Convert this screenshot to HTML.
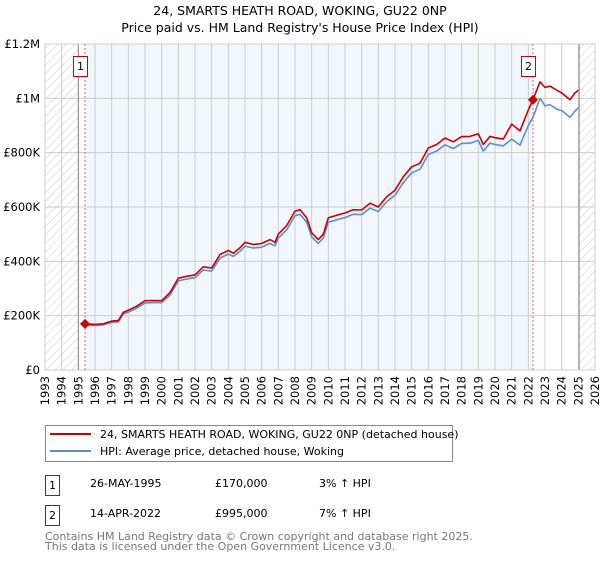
<!DOCTYPE html>
<html><head><meta charset="utf-8">
<style>
body{margin:0;background:#fff;font-family:"DejaVu Sans","Liberation Sans",sans-serif;}
svg text{font-family:"DejaVu Sans","Liberation Sans",sans-serif;}
</style></head>
<body>
<svg id="chart" width="600" height="560" xmlns="http://www.w3.org/2000/svg">
<defs>
<pattern id="hatch" patternUnits="userSpaceOnUse" width="6" height="6" patternTransform="rotate(45)">
<line x1="0" y1="0" x2="0" y2="6" stroke="#ccc" stroke-width="1"/>
</pattern>
</defs>
<text x="300" y="15" text-anchor="middle" font-size="12.5">24, SMARTS HEATH ROAD, WOKING, GU22 0NP</text>
<text x="300" y="32" text-anchor="middle" font-size="12.5">Price paid vs. HM Land Registry's House Price Index (HPI)</text>
<g id="plot"></g>
<g>
<rect x="45.5" y="425.5" width="407" height="36" fill="#fff" stroke="#888"/>
<line x1="50" y1="434" x2="91" y2="434" stroke="#cc0000" stroke-width="2"/>
<text x="100" y="438" font-size="11">24, SMARTS HEATH ROAD, WOKING, GU22 0NP (detached house)</text>
<line x1="50" y1="451" x2="91" y2="451" stroke="#5b8fd0" stroke-width="2"/>
<text x="100" y="455" font-size="11">HPI: Average price, detached house, Woking</text>
</g>
<g font-size="11">
<rect x="45.5" y="475.5" width="14" height="20" fill="#fff" stroke="#cc0000"/>
<text x="52.5" y="489" text-anchor="middle">1</text>
<text x="90" y="487">26-MAY-1995</text><text x="215" y="487">£170,000</text><text x="319" y="487">3% ↑ HPI</text>
<rect x="45.5" y="505.5" width="14" height="20" fill="#fff" stroke="#cc0000"/>
<text x="52.5" y="519" text-anchor="middle">2</text>
<text x="90" y="517">14-APR-2022</text><text x="215" y="517">£995,000</text><text x="319" y="517">7% ↑ HPI</text>
</g>
<g font-size="11" fill="#777">
<text x="45" y="540">Contains HM Land Registry data © Crown copyright and database right 2025.</text>
<text x="45" y="550">This data is licensed under the Open Government Licence v3.0.</text>
</g>
</svg>
<script>
const years=[1995.4,1996,1996.5,1997,1997.4,1997.7,1998,1998.5,1999,1999.5,2000,2000.5,2001,2001.5,2002,2002.5,2003,2003.5,2004,2004.3,2004.7,2005,2005.5,2006,2006.5,2006.8,2007,2007.5,2008,2008.3,2008.7,2009,2009.4,2009.7,2010,2010.5,2011,2011.5,2012,2012.5,2013,2013.5,2014,2014.5,2015,2015.5,2016,2016.5,2017,2017.5,2018,2018.5,2019,2019.3,2019.7,2020,2020.5,2021,2021.5,2022,2022.28,2022.7,2023,2023.3,2023.7,2024,2024.5,2024.8,2025];
const priceSeries=[170,168,170,180,182,212,220,235,255,256,255,285,338,345,350,380,375,425,440,430,450,470,462,466,480,470,500,532,585,590,560,505,480,500,560,570,578,590,589,614,600,638,662,711,748,761,817,830,854,840,859,860,870,830,860,855,850,905,880,957,995,1061,1040,1045,1030,1020,995,1020,1030];
const hpiSeries=[165,164,166,175,177,206,213,228,247,248,248,276,328,335,340,368,364,412,427,418,437,456,449,452,466,457,486,516,568,573,544,490,466,486,544,553,561,573,572,596,583,620,643,690,726,739,793,806,829,815,834,835,845,806,835,830,825,850,828,900,930,1000,972,977,960,955,930,953,965];
const yTicks=[0,200,400,600,800,1000,1200];
const yTickLabels=['£0','£200K','£400K','£600K','£800K','£1M','£1.2M'];
const xStart=1993,xEnd=2026;
const sales=[{n:'1',year:1995.4,price:170},{n:'2',year:2022.28,price:995}];
const L=45,R=595,T=44,B=370;
const xs=y=>L+(y-xStart)/(xEnd-xStart)*(R-L);
const ys=v=>B-v/1200*(B-T);
const NS='http://www.w3.org/2000/svg';
const g=document.getElementById('plot');
function mk(tag,attrs,parent){const e=document.createElementNS(NS,tag);for(const k in attrs)e.setAttribute(k,attrs[k]);(parent||g).appendChild(e);return e;}
let e;
e=mk('rect',{x:L,y:T,width:R-L,height:B-T,fill:'#fff'});


e=mk('rect',{x:xs(sales[0].year),y:T,width:xs(sales[1].year)-xs(sales[0].year),height:B-T,fill:'#f2f6fd'});


e=mk('rect',{x:L,y:T,width:xs(1995)-L,height:B-T,fill:'url(#hatch)'});


e=mk('rect',{x:xs(2025.05),y:T,width:R-xs(2025.05),height:B-T,fill:'url(#hatch)'});


for(let y=xStart;y<=xEnd;y++){
  e=mk('line',{x1:xs(y),x2:xs(y),y1:T,y2:B,stroke:'#ccc','stroke-width':1});
  
  
  e=mk('text',{x:0,y:0,'font-size':11.5,'text-anchor':'end',transform:`translate(${xs(y)+4},${B+6}) rotate(-90)`});
  e.textContent=y;
  
  
}
yTicks.forEach((v,i)=>{
  e=mk('line',{x1:L,x2:R,y1:ys(v),y2:ys(v),stroke:'#ccc','stroke-width':1});
  
  
  e=mk('text',{x:L-5,y:ys(v)+4,'font-size':11.5,'text-anchor':'end'});
  e.textContent=yTickLabels[i];
  
  
});
e=mk('line',{x1:xs(1995),x2:xs(1995),y1:T,y2:B,stroke:'#888','stroke-width':1});


e=mk('line',{x1:xs(2025.05),x2:xs(2025.05),y1:T,y2:B,stroke:'#888','stroke-width':1});


e=mk('rect',{x:L,y:T,width:R-L,height:B-T,fill:'none',stroke:'#ccc'});


function line(arr,color,name){
  const d=arr.map((v,i)=>(i?'L':'M')+xs(years[i]).toFixed(1)+','+ys(v).toFixed(1)).join('');
  const p=mk('path',{d:d,fill:'none',stroke:color,'stroke-width':1.6,'stroke-linejoin':'round'});
  
  
}
line(hpiSeries,'#5b8fd0','hpi-line');
line(priceSeries,'#cc0000','price-paid-line');
sales.forEach(s=>{
  const x=xs(s.year);
  e=mk('line',{x1:x,x2:x,y1:T,y2:B,stroke:'#f06060','stroke-width':1,'stroke-dasharray':'2,2'});
  
  
  const yy=ys(s.price);
  e=mk('path',{d:`M${x},${yy-5}L${x+5},${yy}L${x},${yy+5}L${x-5},${yy}Z`,fill:'#cc0000'});
  
  
  e=mk('rect',{x:x-11.5,y:56.5,width:14,height:20,fill:'#fff',stroke:'#cc0000'});
  
  
  e=mk('text',{x:x-4.5,y:70,'font-size':11,'text-anchor':'middle'});
  e.textContent=s.n;
  
  
});
</script>
</body></html>
